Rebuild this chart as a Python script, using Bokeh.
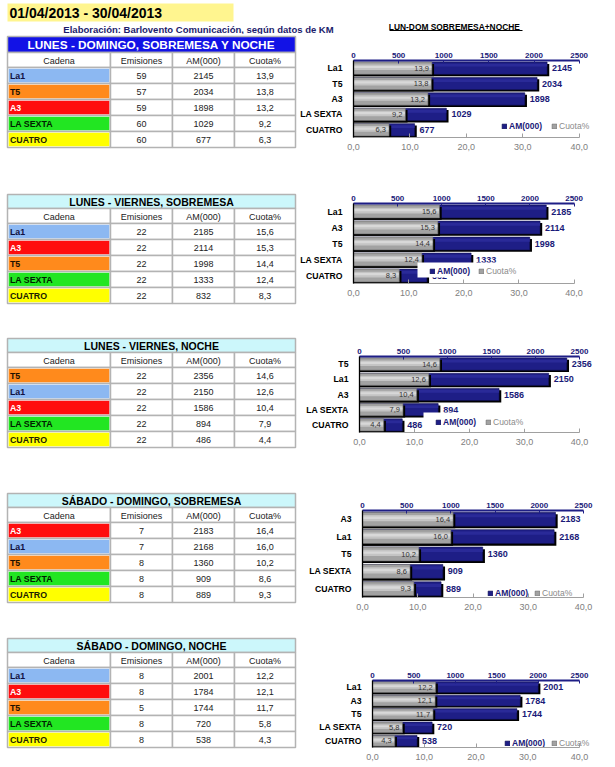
from bokeh.plotting import figure
from bokeh.models import (Range1d, FactorRange, LinearAxis, FixedTicker,
                          CustomJSTickFormatter, ColumnDataSource, Label,
                          BoxAnnotation, Legend, LegendItem)
from bokeh.layouts import column, row
from bokeh.transform import dodge
from bokeh.core.properties import value
from bokeh.embed import file_html
from bokeh.resources import INLINE

FONT = "Liberation Sans"

# ------------------------------------------------------------------ data
date_text = "01/04/2013 - 30/04/2013"
source_text = "Elaboración: Barlovento Comunicación, según datos de KM"
header_labels = ["Cadena", "Emisiones", "AM(000)", "Cuota%"]

table_titles = ["LUNES - DOMINGO, SOBREMESA Y NOCHE",
                "LUNES - VIERNES, SOBREMESA",
                "LUNES - VIERNES, NOCHE",
                "SÁBADO - DOMINGO, SOBREMESA",
                "SÁBADO - DOMINGO, NOCHE"]
chart_titles = ["LUN-DOM  SOBREMESA+NOCHE",
                "LUNES - VIERNES SOBREMESA",
                "LUNES - VIERNES  NOCHE",
                "SÁBADO  Y DOMINGO SOBREMESA",
                "SÁBADO  Y DOMINGO   NOCHE"]

cadena_1 = ["La1", "T5", "A3", "LA SEXTA", "CUATRO"]
emisiones_1 = [59, 57, 59, 60, 60]
am_1 = [2145, 2034, 1898, 1029, 677]
cuota_1 = [13.9, 13.8, 13.2, 9.2, 6.3]

cadena_2 = ["La1", "A3", "T5", "LA SEXTA", "CUATRO"]
emisiones_2 = [22, 22, 22, 22, 22]
am_2 = [2185, 2114, 1998, 1333, 832]
cuota_2 = [15.6, 15.3, 14.4, 12.4, 8.3]

cadena_3 = ["T5", "La1", "A3", "LA SEXTA", "CUATRO"]
emisiones_3 = [22, 22, 22, 22, 22]
am_3 = [2356, 2150, 1586, 894, 486]
cuota_3 = [14.6, 12.6, 10.4, 7.9, 4.4]

cadena_4 = ["A3", "La1", "T5", "LA SEXTA", "CUATRO"]
emisiones_4 = [7, 7, 8, 8, 8]
am_4 = [2183, 2168, 1360, 909, 889]
cuota_4 = [16.4, 16.0, 10.2, 8.6, 9.3]

cadena_5 = ["La1", "A3", "T5", "LA SEXTA", "CUATRO"]
emisiones_5 = [8, 8, 5, 8, 8]
am_5 = [2001, 1784, 1744, 720, 538]
cuota_5 = [12.2, 12.1, 11.7, 5.8, 4.3]

am_ticks = [0, 500, 1000, 1500, 2000, 2500]
cuota_ticks = [0, 10, 20, 30, 40]

legend_labels = ["AM(000)", "Cuota%"]

channel_fill = {"La1": "#8cb8f2", "T5": "#ff8a1c", "A3": "#ff0d0d",
                "LA SEXTA": "#22e622", "CUATRO": "#ffff00"}
channel_text = {"La1": "#101040", "T5": "#201000", "A3": "#ffffff",
                "LA SEXTA": "#002000", "CUATRO": "#202000"}

NAVY = "#1e1e86"
NAVY_TXT = "#1a1a78"

# ------------------------------------------------------------------ layout
W_PAGE = 615
W_TABLE = 297
W_CHART = W_PAGE - W_TABLE
R_EXT = 612
HEADER_H = 34
bands = [(34, 160), (160, 307), (307, 460), (460, 625), (625, 767)]

COL_X = [7, 110, 172, 234, 295]
table_tops = [36, 194, 338, 493, 638]
title_hs = [16, 14, 14, 14, 14]
HEAD_H = 15
ROW_H = 16

CH_L = [348, 349, 359, 362, 372]
CH_R = [578, 573, 579, 583, 579]
CH_T = [60, 203, 356, 510, 680]
CH_B = [137, 283, 432, 597, 747]
title_pos = [(455, 26), (461, 170), (461, 317), (463, 467), (470, 644)]
underline_x = [(389, 522), (395, 527), (407, 516), (390, 537), (407, 532)]
legend_pos = [(497, 547, 125), (426, 475, 270), (436, 486, 421),
              (488, 535, 592), (505, 552, 742)]
white_boxes = {1: (413, 515, 262, 277), 2: (423, 525, 412, 428)}


def blank_fig(w, h):
    p = figure(width=w, height=h, x_range=Range1d(0, w), y_range=Range1d(h, 0),
               x_axis_type=None, y_axis_type=None, toolbar_location=None,
               output_backend="svg", min_border=0, title=None,
               frame_align=False)
    p.outline_line_color = None
    p.background_fill_color = "white"
    p.border_fill_color = "white"
    return p


# ------------------------------------------------------------------ header
hdr = blank_fig(W_PAGE, HEADER_H)
hdr.quad(left=[7], right=[233], top=[3], bottom=[21], fill_color="#fff58f",
         line_color=None)
hdr.text(x=[9], y=[12.5], text=[date_text], text_align="left",
         text_baseline="middle", text_font=value(FONT),
         text_font_size=value("14px"), text_font_style="bold",
         text_color="black")
hdr.text(x=[198], y=[29], text=[source_text], text_align="center",
         text_baseline="middle", text_font=value(FONT),
         text_font_size=value("9.5px"), text_font_style="bold",
         text_color="#1b1b6b")
# title of the first chart lives in the header band
hdr.text(x=[title_pos[0][0]], y=[title_pos[0][1]], text=[chart_titles[0]],
         text_align="center", text_baseline="middle", text_font=value(FONT),
         text_font_size=value("8.4px"), text_font_style="bold",
         text_color="black")
hdr.quad(left=[underline_x[0][0]], right=[underline_x[0][1]],
         top=[title_pos[0][1] + 3.6], bottom=[title_pos[0][1] + 4.6],
         fill_color="black", line_color=None)


# ------------------------------------------------------------------ tables
def table_fig(k, cadena, emis, am, cuota):
    top_band, bot_band = bands[k]
    h = bot_band - top_band
    p = blank_fig(W_TABLE, h)
    y0 = table_tops[k] - top_band
    y1 = y0 + title_hs[k]
    y2 = y1 + HEAD_H
    xs = COL_X
    grid_col = "#b3b3b3"

    # title
    if k == 0:
        tfill, tcol, tsize = "#1212e6", "white", "11.8px"
    else:
        tfill, tcol, tsize = "#ccf7fb", "black", "10.5px"
    p.quad(left=[xs[0]], right=[xs[-1]], top=[y0], bottom=[y1],
           fill_color=tfill, line_color=grid_col, line_width=1.5)
    p.text(x=[(xs[0] + xs[-1]) / 2], y=[(y0 + y1) / 2 + 0.5],
           text=[table_titles[k]], text_align="center", text_baseline="middle",
           text_font=value(FONT), text_font_size=value(tsize),
           text_font_style="bold", text_color=tcol)

    # cells
    L, R, T, B = [], [], [], []
    for c in range(4):
        L.append(xs[c]); R.append(xs[c + 1]); T.append(y1); B.append(y2)
    for i in range(len(cadena)):
        for c in range(4):
            L.append(xs[c]); R.append(xs[c + 1])
            T.append(y2 + i * ROW_H); B.append(y2 + (i + 1) * ROW_H)
    p.quad(left=L, right=R, top=T, bottom=B, fill_color="white",
           line_color=grid_col, line_width=1.5)

    n = len(cadena)
    rt = [y2 + i * ROW_H for i in range(n)]
    src = ColumnDataSource(dict(
        cad=cadena, emis=[str(e) for e in emis], am=[str(a) for a in am],
        cuota=[f"{c:.1f}".replace(".", ",") for c in cuota],
        fill=[channel_fill[c] for c in cadena],
        tcol=[channel_text[c] for c in cadena],
        top=[t + 1.2 for t in rt], bot=[t + ROW_H - 1.2 for t in rt],
        yc=[t + ROW_H / 2 + 0.5 for t in rt],
        l=[xs[0] + 1.2] * n, r=[xs[1] - 1.2] * n,
        xname=[xs[0] + 2.5] * n,
        x1=[(xs[1] + xs[2]) / 2] * n, x2=[(xs[2] + xs[3]) / 2] * n,
        x3=[(xs[3] + xs[4]) / 2] * n))
    p.quad(left="l", right="r", top="top", bottom="bot", fill_color="fill",
           line_color=None, source=src)

    # header texts
    p.text(x=[(xs[c] + xs[c + 1]) / 2 for c in range(4)],
           y=[(y1 + y2) / 2 + 0.5] * 4, text=header_labels,
           text_align="center", text_baseline="middle", text_font=value(FONT),
           text_font_size=value("9px"), text_color="#222222")
    p.text(x="xname", y="yc", text="cad", source=src, text_align="left",
           text_baseline="middle", text_font=value(FONT),
           text_font_size=value("8.8px"), text_font_style="bold",
           text_color="tcol")
    for col in ("x1", "x2", "x3"):
        field = {"x1": "emis", "x2": "am", "x3": "cuota"}[col]
        p.text(x=col, y="yc", text=field, source=src, text_align="center",
               text_baseline="middle", text_font=value(FONT),
               text_font_size=value("9px"), text_color="#222222")
    return p


# ------------------------------------------------------------------ charts
def chart_fig(k, cats, am, cuota):
    top_band, bot_band = bands[k]
    h = bot_band - top_band
    L, R, T, B = CH_L[k], CH_R[k], CH_T[k], CH_B[k]
    fw = R - L
    ext = (R_EXT - L) / fw
    am_max = am_ticks[-1]
    cu_max = cuota_ticks[-1]
    p = figure(width=W_CHART, height=h,
               x_range=Range1d(0, am_max * ext),
               y_range=FactorRange(factors=list(reversed(cats))),
               x_axis_location="above", toolbar_location=None,
               output_backend="svg", title=None, frame_align=False,
               min_border_left=L - W_TABLE, min_border_right=W_PAGE - R_EXT,
               min_border_top=T - top_band, min_border_bottom=bot_band - B)
    p.extra_x_ranges = {"cuota": Range1d(0, cu_max * ext)}
    p.outline_line_color = None
    p.grid.visible = False

    am_px = am_max / fw
    cu_px = cu_max / fw
    src = ColumnDataSource(dict(
        cat=cats, am=am, cuota=cuota,
        am_sh=[a + 2.2 * am_px for a in am],
        cu_sh=[c + 2.2 * cu_px for c in cuota],
        cu_in=[c - 0.6 * cu_px for c in cuota],
        am_lbl=[str(a) for a in am],
        cu_lbl=[f"{c:.1f}".replace(".", ",") for c in cuota]))

    bh = 0.8
    p.hbar(y=dodge("cat", -0.12, range=p.y_range), left=0, right="am_sh",
           height=bh, fill_color="black", line_color=None, source=src)
    navy = p.hbar(y="cat", left=0, right="am", height=bh, fill_color=NAVY,
                  line_color="#111150", line_width=0.6, source=src)
    p.hbar(y=dodge("cat", 0.2, range=p.y_range), left=0, right="am",
           height=0.18, fill_color="#2a2a98", line_color=None, source=src)
    p.hbar(y=dodge("cat", -0.12, range=p.y_range), left=0, right="cu_sh",
           height=bh, fill_color="black", line_color=None, source=src,
           x_range_name="cuota")
    gray = p.hbar(y="cat", left=0, right="cuota", height=bh,
                  fill_color="#a2a2a2", line_color="#6a6a6a", line_width=0.6,
                  source=src, x_range_name="cuota")
    p.hbar(y=dodge("cat", 0.06, range=p.y_range), left=0, right="cu_in",
           height=0.36, fill_color="#c4c4c4", line_color=None, source=src,
           x_range_name="cuota")
    p.hbar(y=dodge("cat", 0.08, range=p.y_range), left=0, right="cu_in",
           height=0.14, fill_color="#d8d8d8", line_color=None, source=src,
           x_range_name="cuota")

    p.text(x="am", y="cat", text="am_lbl", source=src, x_offset=5,
           text_align="left", text_baseline="middle", text_font=value(FONT),
           text_font_size=value("9px"), text_font_style="bold",
           text_color=NAVY_TXT)
    p.text(x="cuota", y="cat", text="cu_lbl", source=src, x_offset=-3,
           text_align="right", text_baseline="middle", text_font=value(FONT),
           text_font_size=value("7.5px"), text_color="#333333",
           x_range_name="cuota")

    # top axis (AM)
    ax = p.xaxis[0]
    ax.ticker = FixedTicker(ticks=am_ticks)
    ax.bounds = (am_ticks[0], am_ticks[-1])
    ax.axis_line_color = NAVY
    ax.axis_line_width = 2
    ax.major_tick_line_color = NAVY
    ax.major_tick_in = 3
    ax.major_tick_out = 0
    ax.minor_tick_line_color = None
    ax.major_label_text_font = FONT
    ax.major_label_text_font_size = "8px"
    ax.major_label_text_font_style = "bold"
    ax.major_label_text_color = NAVY_TXT
    ax.major_label_standoff = 3

    # bottom axis (Cuota)
    bx = LinearAxis(x_range_name="cuota", ticker=FixedTicker(ticks=cuota_ticks),
                    bounds=(cuota_ticks[0], cuota_ticks[-1]),
                    formatter=CustomJSTickFormatter(
                        code="return tick.toFixed(1).replace('.', ',');"))
    bx.axis_line_color = "#a0a0a0"
    bx.major_tick_line_color = "#a0a0a0"
    bx.major_tick_in = 4
    bx.major_tick_out = 0
    bx.minor_tick_line_color = None
    bx.major_label_text_font = FONT
    bx.major_label_text_font_size = "9px"
    bx.major_label_text_color = "#808080"
    bx.major_label_standoff = 6
    p.add_layout(bx, "below")

    # left axis (categories)
    ly = p.yaxis[0]
    ly.axis_line_color = "black"
    ly.axis_line_width = 1.3
    ly.major_tick_line_color = None
    ly.minor_tick_line_color = None
    ly.major_label_text_font = FONT
    ly.major_label_text_font_size = "8.7px"
    ly.major_label_text_font_style = "bold"
    ly.major_label_text_color = "black"
    ly.major_label_standoff = 5

    # title with underline (charts 2..5)
    if k > 0:
        tx, ty = title_pos[k]
        p.add_layout(Label(x=tx - L, y=B - ty, x_units="screen",
                           y_units="screen", text=chart_titles[k],
                           text_align="center", text_baseline="middle",
                           text_font=FONT, text_font_size="8.4px",
                           text_font_style="bold", text_color="black"))
        u0, u1 = underline_x[k]
        p.add_layout(BoxAnnotation(left=u0 - L, right=u1 - L,
                                   bottom=B - ty - 4.6, top=B - ty - 3.6,
                                   left_units="screen", right_units="screen",
                                   top_units="screen", bottom_units="screen",
                                   fill_color="black", fill_alpha=1.0,
                                   line_color=None))

    if k in white_boxes:
        wl, wr, wt, wb = white_boxes[k]
        p.add_layout(BoxAnnotation(left=wl - L, right=wr - L,
                                   bottom=B - wb, top=B - wt,
                                   left_units="screen", right_units="screen",
                                   top_units="screen", bottom_units="screen",
                                   fill_color="white", fill_alpha=1.0,
                                   line_color=None))

    gx_am, gx_cu, gy = legend_pos[k]
    for rend, lab, gx, col, sty in ((navy, legend_labels[0], gx_am, NAVY_TXT, "bold"),
                                    (gray, legend_labels[1], gx_cu, "#8a8a8a", "normal")):
        lg = Legend(items=[LegendItem(label=value(lab), renderers=[rend])],
                    location=(gx - L - 1, B - gy - 6), orientation="horizontal",
                    glyph_width=6, glyph_height=6, label_standoff=2, padding=1,
                    margin=0, spacing=0, border_line_color=None,
                    background_fill_alpha=0.0, label_text_font=FONT,
                    label_text_font_size="8.5px", label_text_font_style=sty,
                    label_text_color=col, label_height=9, label_width=10)
        p.add_layout(lg, "center")
    return p


all_data = [(cadena_1, emisiones_1, am_1, cuota_1),
            (cadena_2, emisiones_2, am_2, cuota_2),
            (cadena_3, emisiones_3, am_3, cuota_3),
            (cadena_4, emisiones_4, am_4, cuota_4),
            (cadena_5, emisiones_5, am_5, cuota_5)]

rows = [hdr]
for k, (cad, em, am, cu) in enumerate(all_data):
    rows.append(row(table_fig(k, cad, em, am, cu), chart_fig(k, cad, am, cu)))

root = column(*rows)

open("out.html", "w").write(file_html(root, INLINE))
